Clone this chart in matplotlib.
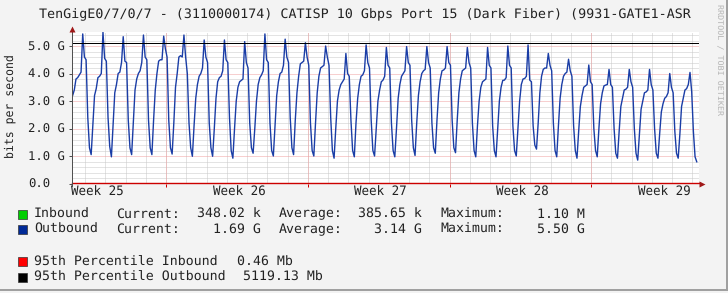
import matplotlib as mpl
mpl.use('Agg')

import numpy as np
import matplotlib.pyplot as plt
from matplotlib.patches import Rectangle
from matplotlib.transforms import blended_transform_factory

W, H = 728, 293

title = "TenGigE0/7/0/7 - (3110000174) CATISP 10 Gbps Port 15 (Dark Fiber) (9931-GATE1-ASR"

# outbound traffic, Gbit/s. one row per day, one sample every 2 h,
# from 12 h before that day's evening peak until 10 h after it
outbound = [
    [3.20, 3.40, 3.80, 3.85, 3.95, 4.05, 5.44, 4.60, 4.50, 2.40, 1.30, 1.05],
    [2.10, 3.20, 3.45, 3.85, 3.90, 4.00, 5.50, 4.55, 4.45, 2.40, 1.35, 0.97],
    [2.10, 3.30, 3.60, 4.00, 4.05, 4.40, 5.34, 4.45, 4.40, 2.30, 1.30, 1.05],
    [2.20, 3.40, 3.80, 4.00, 4.10, 4.40, 5.40, 4.60, 4.50, 2.30, 1.30, 1.05],
    [2.30, 3.40, 4.00, 4.45, 4.50, 4.50, 5.36, 4.90, 4.60, 2.30, 1.30, 1.07],
    [2.20, 3.50, 4.00, 4.60, 4.65, 4.60, 5.40, 4.60, 4.00, 2.20, 1.30, 0.99],
    [2.10, 3.10, 3.60, 3.90, 4.00, 4.20, 5.22, 4.60, 4.40, 2.20, 1.30, 0.99],
    [2.00, 3.10, 3.70, 3.85, 3.90, 4.10, 5.22, 4.50, 4.40, 2.40, 1.20, 0.92],
    [2.00, 3.00, 3.50, 3.70, 3.75, 3.80, 5.16, 4.40, 4.20, 2.20, 1.30, 1.10],
    [2.00, 3.00, 3.60, 3.85, 3.95, 4.10, 5.44, 4.50, 4.40, 2.20, 1.20, 1.00],
    [2.10, 3.20, 3.70, 4.00, 4.05, 4.30, 5.25, 4.60, 4.40, 2.40, 1.30, 1.05],
    [2.30, 3.30, 3.90, 4.35, 4.40, 4.45, 5.12, 4.60, 4.30, 2.20, 1.20, 1.00],
    [2.20, 3.30, 3.90, 4.20, 4.25, 4.30, 5.00, 4.60, 4.30, 2.40, 1.20, 0.92],
    [2.00, 3.00, 3.40, 3.60, 3.70, 3.80, 4.73, 4.00, 3.90, 2.30, 1.20, 0.97],
    [2.20, 3.10, 3.60, 3.90, 3.95, 4.10, 5.04, 4.40, 4.20, 2.30, 1.20, 1.00],
    [2.00, 3.00, 3.40, 3.70, 3.76, 3.90, 4.95, 4.30, 4.20, 2.20, 1.20, 0.97],
    [2.00, 3.10, 3.60, 3.90, 4.00, 4.10, 4.98, 4.40, 4.30, 2.30, 1.30, 1.02],
    [2.20, 3.20, 3.70, 4.00, 4.10, 4.15, 4.98, 4.40, 4.20, 2.20, 1.30, 1.10],
    [2.30, 3.30, 3.80, 4.10, 4.13, 4.20, 4.98, 4.40, 4.30, 2.30, 1.30, 1.12],
    [2.30, 3.30, 3.80, 4.10, 4.15, 4.20, 4.95, 4.40, 4.20, 2.20, 1.20, 0.97],
    [2.10, 3.00, 3.50, 3.70, 3.75, 3.80, 4.95, 4.30, 4.20, 2.10, 1.20, 0.97],
    [2.00, 3.00, 3.50, 3.75, 3.76, 3.85, 5.00, 4.30, 4.20, 2.10, 1.20, 1.00],
    [2.00, 3.00, 3.60, 3.80, 3.82, 3.90, 5.04, 3.76, 3.70, 2.10, 1.40, 1.25],
    [2.20, 3.30, 3.90, 4.15, 4.20, 4.20, 4.73, 4.30, 4.10, 2.20, 1.20, 0.97],
    [2.10, 3.10, 3.60, 3.90, 4.00, 4.05, 4.52, 4.10, 3.90, 2.10, 1.20, 0.92],
    [1.90, 2.80, 3.20, 3.50, 3.55, 3.60, 4.31, 3.70, 3.60, 2.00, 1.20, 0.97],
    [2.00, 2.90, 3.30, 3.55, 3.58, 3.60, 4.15, 3.60, 3.50, 2.00, 1.10, 0.92],
    [1.90, 2.80, 3.10, 3.40, 3.43, 3.50, 4.15, 3.70, 3.50, 2.00, 1.10, 0.85],
    [1.80, 2.70, 3.00, 3.30, 3.33, 3.40, 4.15, 3.60, 3.40, 2.00, 1.10, 0.92],
    [1.80, 2.60, 2.90, 3.10, 3.16, 3.30, 4.00, 3.50, 3.30, 1.90, 1.10, 0.92],
    [1.80, 2.80, 3.10, 3.40, 3.45, 3.60, 4.04, 3.34, 1.90, 0.97, 0.79, np.nan],
]

# inbound traffic, Mbit/s, daily
inbound = [0.40, 0.38, 0.36, 0.41, 0.39, 0.37, 0.35, 0.42, 0.40, 0.38, 0.36,
           0.39, 0.41, 0.37, 0.36, 0.40, 1.10, 0.38, 0.37, 0.39, 0.42, 0.36,
           0.38, 0.40, 0.37, 0.39, 0.41, 0.36, 0.38, 0.37, 0.35]

pct95_in = 0.46      # Mb
pct95_out = 5119.13  # Mb

week_labels = ["Week 25", "Week 26", "Week 27", "Week 28", "Week 29"]
y_ticks = [0, 1, 2, 3, 4, 5]
y_labels = ["0.0", "1.0 G", "2.0 G", "3.0 G", "4.0 G", "5.0 G"]

legend_rows = [
    ("Inbound", "#00CF00", "348.02 k", "385.65 k", "1.10 M"),
    ("Outbound", "#002A97", "1.69 G", "3.14 G", "5.50 G"),
]

first_peak = 0.53   # day offset of first evening peak
step_h = 2.0
week_start = 4.65   # day offset of first week boundary

mono = 'DejaVu Sans Mono'
plt.rcParams['font.family'] = mono
plt.rcParams['text.hinting'] = 'no_hinting'


def fx(px):
    return px / W


def fy(py):
    return 1 - py / H


fig = plt.figure(figsize=(W / 100, H / 100), dpi=100, facecolor='#F3F3F3')
ax = fig.add_axes([fx(72), fy(183.5), (698.5 - 72) / W, (183.5 - 32) / H])
ax.set_facecolor('white')
ax.set_xlim(0, 30.95)
ax.set_ylim(0, 5.51)
for s in ax.spines.values():
    s.set_visible(False)

# grid
dot = (0, (1, 1))
for y in np.arange(0.2, 5.51, 0.2):
    if abs(y - round(y)) > 0.01:
        ax.axhline(y, color='#C8C8C8', lw=0.72, ls=dot, zorder=1)
for d in np.arange(week_start - 4, 30.95, 1.0):
    ax.axvline(d, color='#C8C8C8', lw=0.72, ls=dot, zorder=1)
for y in y_ticks[1:]:
    ax.axhline(y, color='#F0A0A0', lw=0.72, ls=dot, zorder=1.5)
week_lines = np.arange(week_start, 30.95, 7.0)
for d in week_lines:
    ax.axvline(d, color='#F0A0A0', lw=0.72, ls=dot, zorder=1.5)

# outbound series
vals = np.array(outbound).ravel()
k, j = np.divmod(np.arange(vals.size), 12)
t = first_peak + k + (j - 6) * step_h / 24
ax.plot(t, vals, color='#1A3DA6', lw=1.0, zorder=3)

# inbound series (tiny, sits on the zero line)
t_in = np.arange(len(inbound)) + 0.5
ax.plot(t_in, np.array(inbound) / 1000, color='#00CF00', lw=0.72, zorder=3)

# 95th percentile rules
ax.axhline(pct95_out / 1000, color='black', lw=0.72, zorder=4)
btr = blended_transform_factory(ax.transAxes, ax.transData)
ax.plot([0, 1.003], [pct95_in / 1000] * 2, transform=btr, color='#CC0000',
        lw=1.0, clip_on=False, zorder=5)

# axes lines + arrows
ax.plot([0, 0], [-0.015, 1.01], transform=ax.transAxes, color='#505050',
        lw=0.72, clip_on=False, zorder=5)
ax.plot([0], [1.023], transform=ax.transAxes, marker='^', ms=4.5,
        color='#A01818', clip_on=False, zorder=6, mec='none')
ax.plot([1.0058], [0], transform=ax.transAxes, marker='>', ms=4.5,
        color='#A01818', clip_on=False, zorder=6, mec='none')

# ticks
ax.set_yticks(y_ticks, y_labels)
ax.tick_params(axis='y', length=2, width=0.72, color='#505050', pad=29.5,
               labelsize=8.8, labelcolor='#222222')
plt.setp(ax.get_yticklabels(), ha='left')
ax.set_xticks(week_start - 3.4 + 7 * np.arange(len(week_labels)), week_labels)
ax.set_xticks(week_lines, minor=True)
ax.tick_params(axis='x', which='major', length=0, pad=2, labelsize=9,
               labelcolor='#222222')
ax.tick_params(axis='x', which='minor', length=2.5, width=0.72, color='#CC0000')

# texts
fig.text(fx(364.5), fy(14.3), title, ha='center', va='center', fontsize=9.6,
         color='#222222')
fig.text(fx(10.5), fy(106.5), "bits per second", rotation=90, ha='center',
         va='center', fontsize=8.3, color='#222222')
fig.text(fx(718.5), fy(60), "RRDTOOL / TOBI OETIKER", rotation=270,
         ha='center', va='center', fontsize=6, color='#B5B5B5')

# legend
lsize = 9.5
row_y = [214, 229.3]
for (name, col, cur, avg, mx), y in zip(legend_rows, row_y):
    fig.add_artist(Rectangle((fx(17.5), fy(y + 4.5)), 9.5 / W, 9 / H,
                             transform=fig.transFigure, facecolor=col,
                             edgecolor='#333333', lw=0.5))
    fig.text(fx(34), fy(y), name, va='center', fontsize=lsize, color='#222222')
    fig.text(fx(116), fy(y), "Current:", va='center', fontsize=lsize, color='#222222')
    fig.text(fx(260.5), fy(y), cur, va='center', ha='right', fontsize=lsize, color='#222222')
    fig.text(fx(278.5), fy(y), "Average:", va='center', fontsize=lsize, color='#222222')
    fig.text(fx(422), fy(y), avg, va='center', ha='right', fontsize=lsize, color='#222222')
    fig.text(fx(440.5), fy(y), "Maximum:", va='center', fontsize=lsize, color='#222222')
    fig.text(fx(585), fy(y), mx, va='center', ha='right', fontsize=lsize, color='#222222')

pct_rows = [
    ("95th Percentile Inbound", "#FF0000", "%.2f Mb" % pct95_in, 237, 261.7),
    ("95th Percentile Outbound", "#000000", "%.2f Mb" % pct95_out, 242.8, 277.3),
]
for name, col, val, vx, y in pct_rows:
    fig.add_artist(Rectangle((fx(17.5), fy(y + 4.5)), 9.5 / W, 9 / H,
                             transform=fig.transFigure, facecolor=col,
                             edgecolor='#333333', lw=0.5))
    fig.text(fx(34), fy(y), name, va='center', fontsize=lsize, color='#222222')
    fig.text(fx(vx), fy(y), val, va='center', fontsize=lsize, color='#222222')

# frame shading
fig.add_artist(Rectangle((0, fy(291)), 1, 2.5 / H, transform=fig.transFigure,
                         facecolor='#A0A0A0', edgecolor='none'))
fig.add_artist(Rectangle((fx(725.5), fy(291)), 2.5 / W, 1, transform=fig.transFigure,
                         facecolor='#A0A0A0', edgecolor='none'))

fig.savefig('out.png', dpi=100, facecolor=fig.get_facecolor())
